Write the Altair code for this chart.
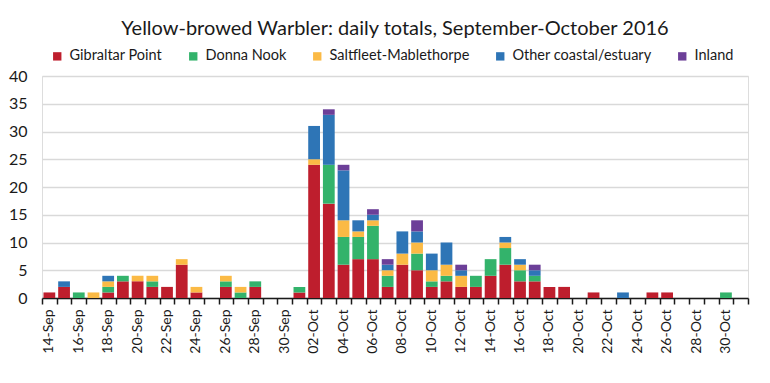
import altair as alt
import pandas as pd

dates = ["14-Sep", "15-Sep", "16-Sep", "17-Sep", "18-Sep", "19-Sep", "20-Sep", "21-Sep",
         "22-Sep", "23-Sep", "24-Sep", "25-Sep", "26-Sep", "27-Sep", "28-Sep", "29-Sep",
         "30-Sep", "01-Oct", "02-Oct", "03-Oct", "04-Oct", "05-Oct", "06-Oct", "07-Oct",
         "08-Oct", "09-Oct", "10-Oct", "11-Oct", "12-Oct", "13-Oct", "14-Oct", "15-Oct",
         "16-Oct", "17-Oct", "18-Oct", "19-Oct", "20-Oct", "21-Oct", "22-Oct", "23-Oct",
         "24-Oct", "25-Oct", "26-Oct", "27-Oct", "28-Oct", "29-Oct", "30-Oct", "31-Oct"]

gibraltar = [1, 2, 0, 0, 1, 3, 3, 2, 2, 6, 1, 0, 2, 0, 2, 0,
             0, 1, 24, 17, 6, 7, 7, 2, 6, 5, 2, 3, 2, 2, 4, 6,
             3, 3, 2, 2, 0, 1, 0, 0, 0, 1, 1, 0, 0, 0, 0, 0]
donna = [0, 0, 1, 0, 1, 1, 0, 1, 0, 0, 0, 0, 1, 1, 1, 0,
         0, 1, 0, 7, 5, 4, 6, 2, 0, 3, 1, 1, 0, 2, 3, 3,
         2, 1, 0, 0, 0, 0, 0, 0, 0, 0, 0, 0, 0, 0, 1, 0]
saltfleet = [0, 0, 0, 1, 1, 0, 1, 1, 0, 1, 1, 0, 1, 1, 0, 0,
             0, 0, 1, 0, 3, 1, 1, 1, 2, 2, 2, 2, 2, 0, 0, 1,
             1, 0, 0, 0, 0, 0, 0, 0, 0, 0, 0, 0, 0, 0, 0, 0]
other = [0, 1, 0, 0, 1, 0, 0, 0, 0, 0, 0, 0, 0, 0, 0, 0,
         0, 0, 6, 9, 9, 2, 1, 1, 4, 2, 3, 4, 1, 0, 0, 1,
         1, 1, 0, 0, 0, 0, 0, 1, 0, 0, 0, 0, 0, 0, 0, 0]
inland = [0, 0, 0, 0, 0, 0, 0, 0, 0, 0, 0, 0, 0, 0, 0, 0,
          0, 0, 0, 1, 1, 0, 1, 1, 0, 2, 0, 0, 1, 0, 0, 0,
          0, 1, 0, 0, 0, 0, 0, 0, 0, 0, 0, 0, 0, 0, 0, 0]

series = ["Gibraltar Point", "Donna Nook", "Saltfleet-Mablethorpe",
          "Other coastal/estuary", "Inland"]
colors = ["#BE1E2D", "#33B36B", "#FBBA45", "#2E75B6", "#6C3F98"]
y_ticks = [0, 5, 10, 15, 20, 25, 30, 35, 40]

rows = []
for k, (name, vals) in enumerate(zip(series, [gibraltar, donna, saltfleet, other, inland])):
    for d, v in zip(dates, vals):
        rows.append({"date": d, "site": name, "order": k, "count": v})
df = pd.DataFrame(rows)

FONT = "Lato"

bars = alt.Chart(df).mark_bar().encode(
    x=alt.X("date:N", sort=dates,
            scale=alt.Scale(paddingInner=0.2, paddingOuter=0.1),
            axis=alt.Axis(orient="bottom", values=dates[::2], labelAngle=270,
                          ticks=False, domain=True, domainColor="#1a1a1a", domainWidth=1.5,
                          labelFont=FONT, labelFontSize=14, labelColor="#1a1a1a",
                          labelPadding=11, title=None, grid=False)),
    y=alt.Y("count:Q", stack="zero", scale=alt.Scale(domain=[0, 40], nice=False),
            axis=alt.Axis(values=y_ticks, domain=False, ticks=False, grid=True,
                          gridColor="#D9D9D9", gridWidth=1.5, labelFont=FONT,
                          labelFontSize=16, labelColor="#1a1a1a", labelPadding=15,
                          title=None)),
    color=alt.Color("site:N", sort=series,
                    scale=alt.Scale(domain=series, range=colors),
                    legend=alt.Legend(orient="none", direction="horizontal",
                                      legendX=8, legendY=-27, title=None,
                                      symbolType="square", symbolSize=70,
                                      symbolStrokeWidth=0, columnPadding=23,
                                      labelFont=FONT, labelFontSize=14.5,
                                      labelColor="#1a1a1a", labelOffset=5)),
    order=alt.Order("order:Q"),
)

bounds = pd.DataFrame({"b": list(range(len(dates) + 1))})
tick_layer = alt.Chart(bounds).mark_point(opacity=0).encode(
    x=alt.X("b:Q", scale=alt.Scale(domain=[0, len(dates)], nice=False, zero=False),
            axis=alt.Axis(orient="bottom", values=list(range(len(dates) + 1)),
                          labels=False, ticks=True, tickSize=6, tickWidth=1.5,
                          tickColor="#1a1a1a", domain=False, grid=False, title=None)),
)

chart = alt.layer(bars, tick_layer).resolve_scale(x="independent").properties(
    width=706, height=222,
    autosize="none",
    padding={"left": 34, "top": 68, "right": 14, "bottom": 85},
    title=alt.Title("Yellow-browed Warbler: daily totals, September-October 2016",
                    font=FONT, fontSize=20, fontWeight="normal", color="#1a1a1a",
                    anchor="middle", offset=10),
).configure_view(stroke=None).configure(background="white")

chart.save("out.html", embed_options={"renderer": "svg", "actions": False})
